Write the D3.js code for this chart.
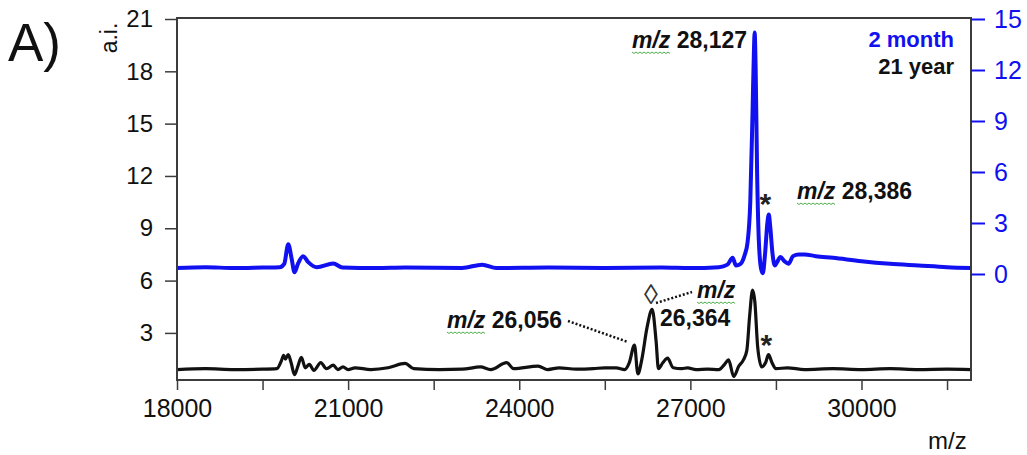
<!DOCTYPE html>
<html>
<head>
<meta charset="utf-8">
<script src="https://cdn.jsdelivr.net/npm/d3@7"></script>
<style>
  body { margin: 0; background: #fff; }
  svg { display: block; font-family: "Liberation Sans", Arial, sans-serif; }
</style>
</head>
<body>
<div id="chart"></div>
<script>
// m/z positions and intensities, 2 month sample (right axis)
const mzBlue = [18000, 18500, 19000, 19500, 19800, 19880, 19950, 20010, 20060, 20120, 20210, 20300, 20450,
  20740, 20900, 21500, 22000, 23000, 23350, 23600, 24500, 25500, 26500, 27000, 27500, 27650, 27740, 27800,
  27880, 27950, 28000, 28050, 28090, 28115, 28127, 28145, 28170, 28200, 28240, 28270, 28310, 28350, 28375,
  28400, 28440, 28480, 28520, 28580, 28650, 28720, 28800, 28900, 29000, 29200, 29500, 30000, 30500, 31000,
  31500, 31920];
const blue2Month = [0.35, 0.4, 0.35, 0.38, 0.4, 0.6, 1.75, 0.9, 0.1, 0.6, 1.05, 0.7, 0.4,
  0.62, 0.38, 0.35, 0.38, 0.36, 0.55, 0.35, 0.38, 0.35, 0.38, 0.35, 0.4, 0.55, 0.95, 0.5,
  0.6, 1.1, 1.8, 4.2, 9.5, 13.2, 14.2, 12.0, 6.0, 2.0, 0.3, 0.05, 1.2, 3.0, 3.5,
  2.8, 1.2, 0.5, 0.7, 1.0, 0.75, 0.6, 1.05, 1.15, 1.15, 1.05, 0.95, 0.75, 0.6, 0.5,
  0.4, 0.35];

// m/z positions and intensities, 21 year sample (left axis)
const mzBlack = [18000, 18500, 19000, 19500, 19750, 19830, 19870, 19900, 19950, 20000, 20060, 20120, 20180,
  20250, 20320, 20400, 20520, 20620, 20740, 20820, 20910, 21000, 21120, 21400, 21700, 22000, 22150, 22600,
  23000, 23320, 23500, 23780, 23900, 24330, 24500, 24700, 25000, 25300, 25500, 25700, 25850, 25930, 26020,
  26080, 26150, 26240, 26330, 26400, 26440, 26520, 26600, 26700, 26850, 26950, 27100, 27300, 27500, 27600,
  27670, 27760, 27850, 27930, 27990, 28040, 28090, 28130, 28180, 28250, 28320, 28370, 28430, 28500, 28700,
  29000, 29500, 30000, 30500, 31000, 31500, 31920];
const black21Year = [0.9, 0.95, 0.9, 0.92, 0.95, 1.4, 1.72, 1.5, 1.75, 1.3, 0.6, 1.1, 1.6,
  1.0, 1.2, 0.85, 1.3, 0.95, 1.15, 0.9, 1.05, 0.9, 1.0, 0.9, 1.0, 1.25, 0.95, 0.9,
  0.92, 1.05, 0.9, 1.3, 0.95, 1.1, 0.9, 1.0, 0.92, 0.95, 1.0, 1.0, 0.9, 1.3, 2.3,
  0.65, 1.5, 3.3, 4.35, 2.5, 0.95, 1.3, 1.55, 1.0, 0.95, 1.0, 0.9, 0.92, 0.9, 1.2,
  1.45, 0.5, 1.1, 1.45, 2.0, 4.0, 5.45, 4.8, 2.2, 1.05, 1.3, 1.75, 1.3, 0.95, 1.0,
  0.9, 0.95, 0.9, 0.95, 0.9, 0.92, 0.9];

const xMajorTicks = [18000, 21000, 24000, 27000, 30000];
const xMinorTicks = [19500, 22500, 25500, 28500, 31500];
const leftTicks = [3, 6, 9, 12, 15, 18, 21];
const rightTicks = [0, 3, 6, 9, 12, 15];

const W = 1027, H = 455;
const plotLeft = 177, plotRight = 971, plotTop = 18, plotBottom = 380;
const BLUE = '#1010f0';
const FONT = '"Liberation Sans", Arial, sans-serif';

const svg = d3.select('#chart').append('svg').attr('width', W).attr('height', H);

const x = d3.scaleLinear().domain([18000, 31920]).range([plotLeft, plotRight]);
const yL = d3.scaleLinear().domain([0.3, 21]).range([plotBottom, plotTop + 1]);
const yR = d3.scaleLinear().domain([0, 15]).range([274, plotTop + 1]);

// Spectra
const line = (ys, sc) => d3.line()
  .x((d) => x(d))
  .y((d, i) => sc(ys[i]))
  .curve(d3.curveMonotoneX);

svg.append('path')
  .attr('d', line(blue2Month, yR)(mzBlue))
  .attr('fill', 'none').attr('stroke', BLUE).attr('stroke-width', 4)
  .attr('stroke-linejoin', 'round');

svg.append('path')
  .attr('d', line(black21Year, yL)(mzBlack))
  .attr('fill', 'none').attr('stroke', '#111').attr('stroke-width', 3.2)
  .attr('stroke-linejoin', 'round');

// Frame
const frameColor = '#3c3c3c';
svg.append('rect')
  .attr('x', plotLeft).attr('y', plotTop)
  .attr('width', plotRight - plotLeft).attr('height', plotBottom - plotTop)
  .attr('fill', 'none').attr('stroke', frameColor).attr('stroke-width', 2);

// X axis
const xAxis = svg.append('g').attr('transform', `translate(0,${plotBottom})`)
  .call(d3.axisBottom(x).tickValues(xMajorTicks.concat(xMinorTicks))
    .tickSize(10).tickPadding(9)
    .tickFormat(d => xMajorTicks.includes(d) ? d : ''));
xAxis.select('.domain').remove();
xAxis.selectAll('line').attr('stroke', frameColor).attr('stroke-width', 1.5);
xAxis.selectAll('text').attr('font-size', 25).attr('fill', '#111').attr('font-family', FONT);

// Left axis
const lAxis = svg.append('g').attr('transform', `translate(${plotLeft},0)`)
  .call(d3.axisLeft(yL).tickValues(leftTicks).tickSize(12).tickPadding(12));
lAxis.select('.domain').remove();
lAxis.selectAll('line').attr('stroke', frameColor).attr('stroke-width', 1.5);
lAxis.selectAll('text').attr('font-size', 24).attr('fill', '#111').attr('font-family', FONT);

// Right axis
const rAxis = svg.append('g').attr('transform', `translate(${plotRight},0)`)
  .call(d3.axisRight(yR).tickValues(rightTicks).tickSize(14).tickPadding(9));
rAxis.select('.domain').remove();
rAxis.selectAll('line').attr('stroke', BLUE).attr('stroke-width', 2);
rAxis.selectAll('text').attr('font-size', 25).attr('fill', BLUE).attr('font-family', FONT);

// Axis titles and panel letter
svg.append('text').attr('x', 8).attr('y', 61)
  .attr('font-size', 53).attr('fill', '#111').text('A)');
svg.append('text').attr('transform', 'translate(117,38) rotate(-90)')
  .attr('text-anchor', 'middle').attr('font-size', 23).attr('fill', '#111').text('a.i.');
svg.append('text').attr('x', 928).attr('y', 449)
  .attr('font-size', 24).attr('fill', '#111').text('m/z');

// Legend
svg.append('text').attr('x', 954).attr('y', 47).attr('text-anchor', 'end')
  .attr('font-size', 22).attr('font-weight', 'bold').attr('fill', BLUE).text('2 month');
svg.append('text').attr('x', 954).attr('y', 74).attr('text-anchor', 'end')
  .attr('font-size', 22).attr('font-weight', 'bold').attr('fill', '#111').text('21 year');

// Peak labels
function squiggle(node, py) {
  const len = node.getComputedTextLength();
  const start = node.getStartPositionOfChar(0).x;
  const pts = [];
  for (let s = 0; s <= len; s += 2) pts.push([start + s, py + 4 + ((s / 2) % 2 ? 1.5 : 0)]);
  svg.append('path').attr('d', d3.line()(pts))
    .attr('fill', 'none').attr('stroke', '#4cae4c').attr('stroke-width', 1);
}

function mzLabel(px, py, value) {
  const t = svg.append('text').attr('x', px).attr('y', py)
    .attr('font-size', 23).attr('font-weight', 'bold').attr('fill', '#111');
  const mz = t.append('tspan').attr('font-style', 'italic').text('m/z');
  if (value) t.append('tspan').text(' ' + value);
  squiggle(mz.node(), py);
  return t;
}

mzLabel(632, 48, '28,127');
mzLabel(797, 199, '28,386');
mzLabel(447, 328, '26,056');
mzLabel(697, 298, null);
svg.append('text').attr('x', 660).attr('y', 326)
  .attr('font-size', 23).attr('font-weight', 'bold').attr('fill', '#111').text('26,364');

// Markers
svg.append('text').attr('x', x(28386) - 4).attr('y', 214).attr('text-anchor', 'middle')
  .attr('font-size', 30).attr('font-weight', 'bold').attr('fill', '#222').text('*');
svg.append('text').attr('x', x(28386) - 3).attr('y', 355).attr('text-anchor', 'middle')
  .attr('font-size', 30).attr('font-weight', 'bold').attr('fill', '#222').text('*');
svg.append('text').attr('x', 651).attr('y', 304).attr('text-anchor', 'middle')
  .attr('font-size', 28).attr('fill', '#333').text('\u25CA');

// Dotted leaders
const leader = (x1, y1, x2, y2) => svg.append('line')
  .attr('x1', x1).attr('y1', y1).attr('x2', x2).attr('y2', y2)
  .attr('stroke', '#111').attr('stroke-width', 2.5).attr('stroke-dasharray', '2,2');
leader(568, 321, 628, 342);
leader(656, 303, 692, 292);
</script>
</body>
</html>
